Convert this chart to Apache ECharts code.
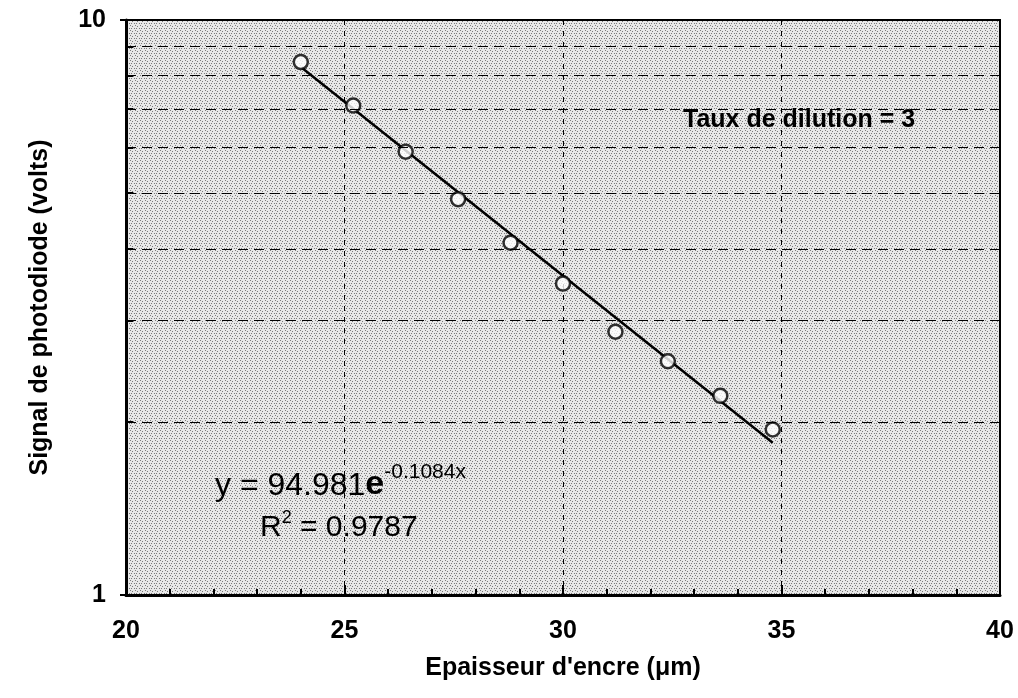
<!DOCTYPE html>
<html>
<head>
<meta charset="utf-8">
<script src="https://cdn.jsdelivr.net/npm/echarts@6/dist/echarts.min.js"></script>
<style>
  html, body { margin: 0; padding: 0; background: #fff; }
  #chart { width: 1018px; height: 698px; }
</style>
</head>
<body>
<div id="chart"></div>
<script>
// epaisseur (um) / signal (V)
var thickness = [24.0, 25.2, 26.4, 27.6, 28.8, 30.0, 31.2, 32.4, 33.6, 34.8];
var signal = [8.45, 7.1, 5.9, 4.88, 4.1, 3.48, 2.87, 2.55, 2.22, 1.94];
// trend line ends as drawn
var fitX = [24.03, 34.8];
var fitY = [8.25, 1.84];
// minor log gridlines
var logGrid = [2, 3, 4, 5, 6, 7, 8, 9];

var font = '"Liberation Sans", Arial, sans-serif';

var points = thickness.map(function (x, i) { return [x, signal[i]]; });
var fit = fitX.map(function (x, i) { return [x, fitY[i]]; });

// halftone-ish grey tile for the plot background
var tile = document.createElement('canvas');
tile.width = 5; tile.height = 5;
var tc = tile.getContext('2d');
tc.fillStyle = '#e8e8e8';
tc.fillRect(0, 0, 5, 5);
tc.fillStyle = '#7a7a7a';
[[0, 0], [2, 1], [4, 3], [1, 3]].forEach(function (p) { tc.fillRect(p[0], p[1], 1, 1); });

var gridLines = logGrid.map(function (v) { return { yAxis: v }; });
var yMinor = logGrid.map(function (v) {
  return [{ coord: [20, v], lineStyle: { type: 'solid', width: 2 } }, { coord: [20.17, v] }];
});

var chart = echarts.init(document.getElementById('chart'));
var option = {
  animation: false,
  backgroundColor: '#fff',
  grid: {
    show: true,
    left: 126, right: 18, top: 20, bottom: 103,
    backgroundColor: { image: tile, repeat: 'repeat' },
    borderColor: '#000',
    borderWidth: 2
  },
  xAxis: {
    type: 'value',
    min: 20, max: 40, interval: 5,
    name: "Epaisseur d'encre (\u03bcm)",
    nameLocation: 'middle',
    nameGap: 61,
    nameTextStyle: { fontFamily: font, fontWeight: 'bold', fontSize: 25, color: '#000' },
    axisLine: { lineStyle: { color: '#000', width: 3 } },
    axisTick: { inside: true, length: 10, lineStyle: { color: '#000', width: 2 } },
    minorTick: { show: true, splitNumber: 5, length: 6, lineStyle: { color: '#000', width: 2 } },
    axisLabel: { margin: 24, fontFamily: font, fontWeight: 'bold', fontSize: 25, color: '#000' },
    splitLine: { show: true, lineStyle: { color: '#000', type: [5, 6], width: 1 } }
  },
  yAxis: {
    type: 'log',
    logBase: 10,
    min: 1, max: 10,
    name: 'Signal de photodiode (volts)',
    nameLocation: 'middle',
    nameGap: 73,
    nameTextStyle: { fontFamily: font, fontWeight: 'bold', fontSize: 25, color: '#000' },
    axisLine: { lineStyle: { color: '#000', width: 3 } },
    axisTick: { length: 6, lineStyle: { color: '#000', width: 2 } },
    axisLabel: { margin: 20, fontFamily: font, fontWeight: 'bold', fontSize: 25, color: '#000' },
    splitLine: { show: false }
  },
  series: [
    {
      type: 'line',
      data: fit,
      showSymbol: false,
      symbol: 'none',
      lineStyle: { color: '#000', width: 2.5 },
      silent: true,
      z: 3,
      markLine: {
        silent: true,
        symbol: 'none',
        label: { show: false },
        lineStyle: { color: '#000', type: [10, 6], width: 1 },
        data: gridLines.concat(yMinor)
      }
    },
    {
      type: 'scatter',
      data: points,
      symbol: 'circle',
      symbolSize: 14,
      itemStyle: { color: '#fff', borderColor: '#000', borderWidth: 2.5 },
      z: 4
    }
  ],
  graphic: [
    {
      type: 'text',
      left: 683, top: 108,
      style: { text: 'Taux de dilution = 3', font: 'bold 25px ' + font, fill: '#000' }
    },
    {
      type: 'text',
      left: 215, top: 462,
      style: {
        text: '{a|y = 94.981}{e|e}{s|-0.1084x}',
        rich: {
          a: { font: '32px ' + font, fill: '#000', verticalAlign: 'bottom' },
          e: { font: 'bold 34px ' + font, fill: '#000', verticalAlign: 'bottom' },
          s: { font: '21px ' + font, fill: '#000', verticalAlign: 'top', padding: [0, 0, 19, 0] }
        }
      }
    },
    {
      type: 'text',
      left: 260, top: 509,
      style: {
        text: '{a|R}{s|2}{a| = 0.9787}',
        rich: {
          a: { font: '30px ' + font, fill: '#000', verticalAlign: 'bottom' },
          s: { font: '18px ' + font, fill: '#000', verticalAlign: 'top', padding: [0, 0, 16, 0] }
        }
      }
    }
  ]
};
chart.setOption(option);
</script>
</body>
</html>
